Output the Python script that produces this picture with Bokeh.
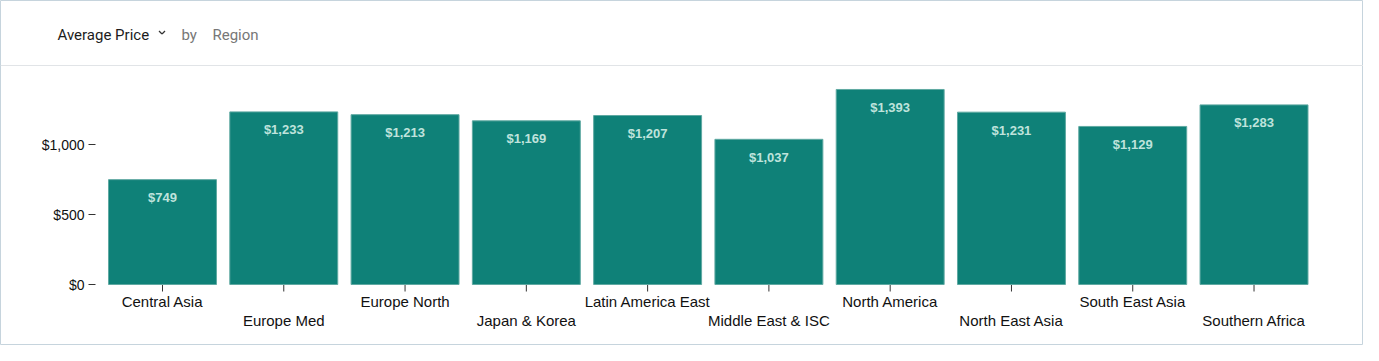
from bokeh.plotting import figure
from bokeh.models import ColumnDataSource, LabelSet, FactorRange, Range1d
from bokeh.core.properties import value
from bokeh.transform import dodge
from bokeh.embed import file_html
from bokeh.resources import INLINE

regions = ["Central Asia", "Europe Med", "Europe North", "Japan & Korea",
           "Latin America East", "Middle East & ISC", "North America",
           "North East Asia", "South East Asia", "Southern Africa"]
avg_price = [749, 1233, 1213, 1169, 1207, 1037, 1393, 1231, 1129, 1283]
price_labels = ["$" + format(v, ",") for v in avg_price]
y_ticks = [0, 500, 1000]
y_tick_labels = ["$" + format(v, ",") for v in y_ticks]
header_title = "Average Price"
header_by = "by"
header_dim = "Region"

# ---- layout constants (canvas pixels) ----
W, H = 1363, 345
PITCH = 121.28          # px per category
CAT0 = 162.0            # canvas x of first category centre
BASE = 284.0            # canvas y of value 0
YSCALE = 0.14           # px per value unit
pad = W / PITCH - len(regions)          # total padding in category units
shift = (CAT0 - (pad / 2 + 0.5) * PITCH) / PITCH

p = figure(width=W, height=H, output_backend="svg", toolbar_location=None,
           x_axis_location=None, y_axis_location=None,
           x_range=FactorRange(*regions, range_padding=pad / 2, range_padding_units="absolute"),
           y_range=Range1d(-(H - BASE) / YSCALE, BASE / YSCALE),
           min_border=0)
p.extra_y_ranges = {"py": Range1d(H, 0)}
p.outline_line_color = "#c6d4dd"
p.outline_line_width = 1
p.background_fill_color = "white"
p.border_fill_color = "white"
p.grid.grid_line_color = None


def xpx(field, cx):
    """x position given in canvas px, expressed relative to the first factor"""
    return dodge(field, shift + (cx - CAT0) / PITCH, range=p.x_range)


src = ColumnDataSource(dict(region=regions, price=avg_price, lab=price_labels))
xd = dodge("region", shift, range=p.x_range)

# bars
p.vbar(x=xd, top="price", bottom=0, width=0.89, source=src,
       fill_color="#0f8178", line_color="#5fa9a2", line_width=1)

# value labels
p.add_layout(LabelSet(x=xd, y="price", text="lab", source=src, y_offset=-18,
                      text_align="center", text_baseline="middle",
                      text_font=value("Liberation Sans"), text_font_style="bold",
                      text_font_size="13px", text_color="#bfe3dc"))

# x axis ticks
p.segment(x0=xd, x1=xd, y0=BASE + 0.5, y1=BASE + 7, source=src, y_range_name="py",
          line_color="#333333", line_width=1)

# x axis labels, staggered in two rows
even = ColumnDataSource(dict(region=regions[0::2]))
odd = ColumnDataSource(dict(region=regions[1::2]))
for s, row_y in ((even, 301), (odd, 320)):
    p.text(x=dodge("region", shift, range=p.x_range), y=row_y, text="region", source=s,
           y_range_name="py", text_align="center", text_baseline="middle",
           text_font=value("Liberation Sans"), text_font_size="15px", text_color="#111111")

# y axis ticks and labels
ysrc = ColumnDataSource(dict(v=y_ticks, lab=y_tick_labels, anchor=[regions[0]] * len(y_ticks)))
p.segment(x0=xpx("anchor", 88), x1=xpx("anchor", 95), y0="v", y1="v", source=ysrc,
          line_color="#333333", line_width=1)
p.text(x=xpx("anchor", 84), y="v", text="lab", source=ysrc,
       text_align="right", text_baseline="middle",
       text_font=value("Liberation Sans"), text_font_size="14px", text_color="#111111")

# header
hdr = ColumnDataSource(dict(anchor=[regions[0]] * 3, dx=[57 - CAT0, 181 - CAT0, 212 - CAT0],
                            t=[header_title, header_by, header_dim],
                            c=["#1c1c1c", "#777777", "#777777"]))
p.text(x=xpx("anchor", CAT0), y=34, x_offset="dx", text="t", text_color="c", source=hdr,
       y_range_name="py", text_align="left", text_baseline="middle",
       text_font=value("Roboto"), text_font_size="15px")
chev = ColumnDataSource(dict(anchor=[regions[0]]))
p.segment(x0=xpx("anchor", 158.5), x1=xpx("anchor", 161.5), y0=30.5, y1=33.5, source=chev,
          y_range_name="py", line_color="#333333", line_width=1.3)
p.segment(x0=xpx("anchor", 161.5), x1=xpx("anchor", 164.5), y0=33.5, y1=30.5, source=chev,
          y_range_name="py", line_color="#333333", line_width=1.3)

# separator under the header
p.hspan(y=[64.5], y_range_name="py", line_color="#e1e4e7", line_width=1)

open("out.html", "w").write(file_html(p, INLINE))
